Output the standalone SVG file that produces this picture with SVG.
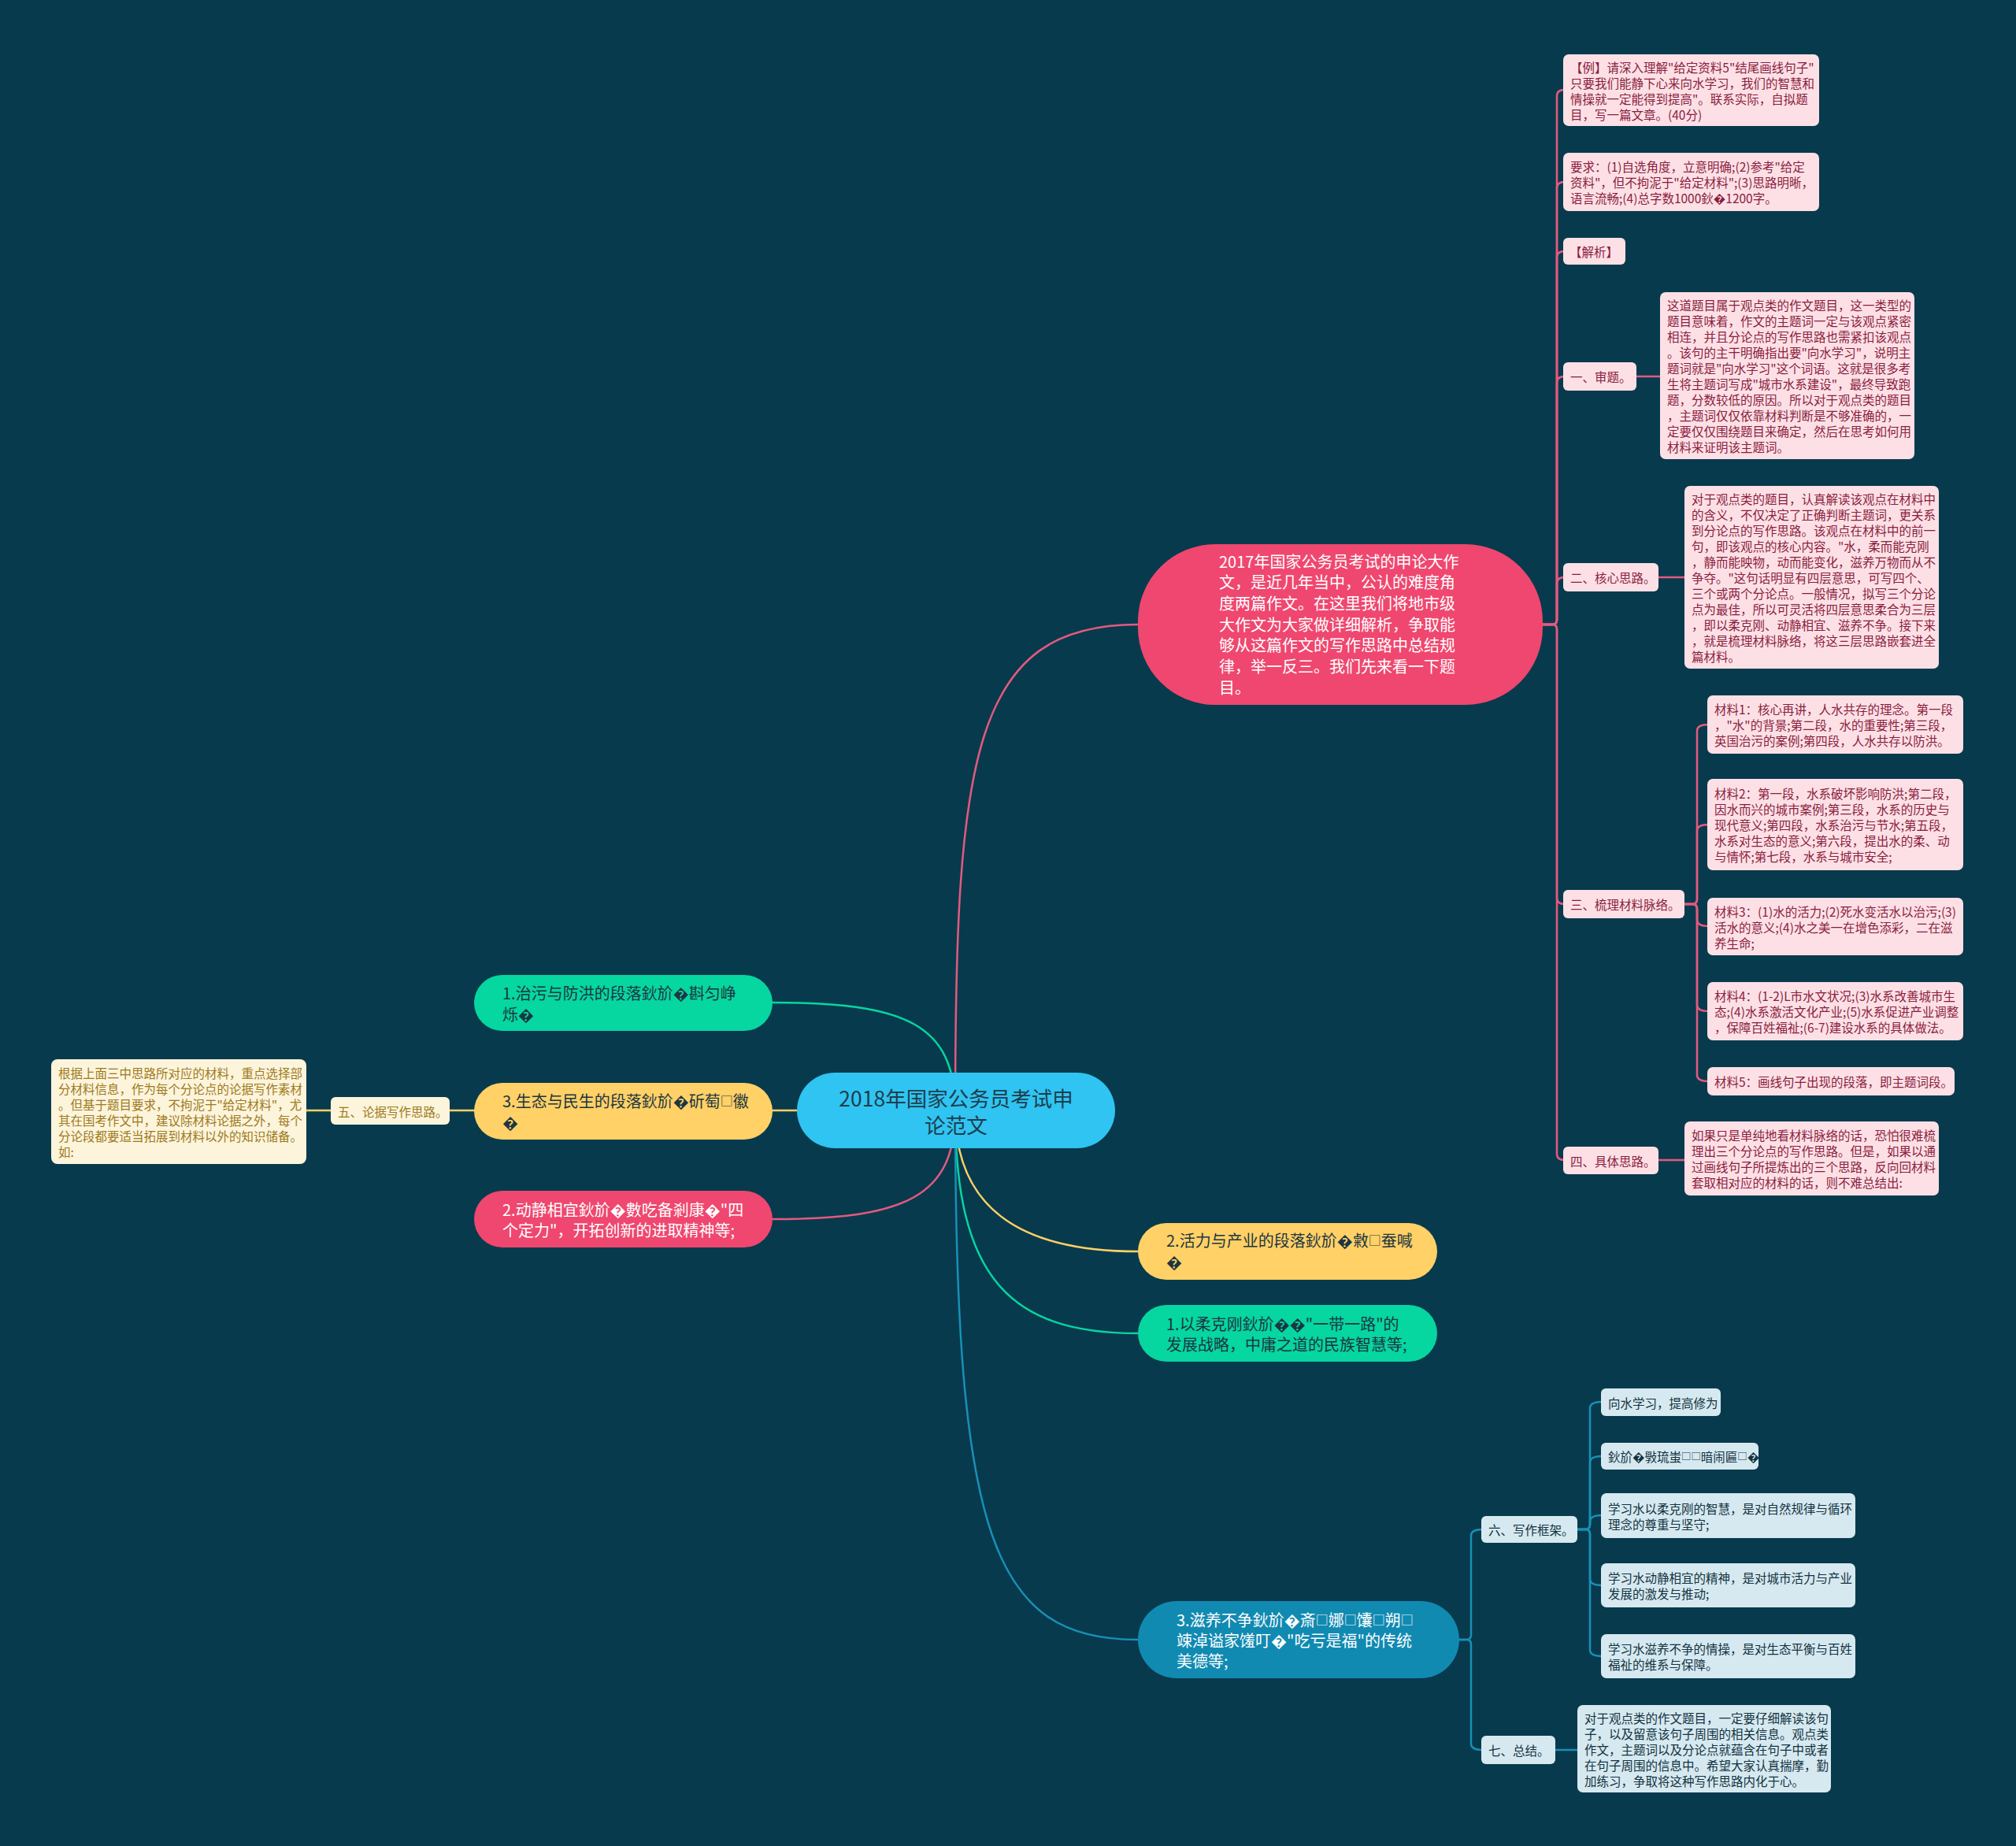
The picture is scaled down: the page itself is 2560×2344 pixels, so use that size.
<svg xmlns="http://www.w3.org/2000/svg" width="2560" height="2344" viewBox="0 0 2560 2344">
<defs>
<style>
text{font-family:"Noto Sans CJK SC","Noto Sans",sans-serif;dominant-baseline:central}
.bg{fill:#083a4d}
.c{fill:none;stroke-width:2.5;stroke-linecap:round}
.cp{stroke:#e35a7f}
.cg{stroke:#06d6a0}
.cy{stroke:#ffd166}
.cb{stroke:#1890b8}
.root rect{fill:#2fc4f1}
.root text{font-size:26.5px;fill:#1e3d4d;text-anchor:middle}
.l1 text{font-size:20px}
.dk{fill:#1c3542}
.wt{fill:#ffffff}
.fp{fill:#ef476f}
.fg{fill:#06d6a0}
.fy{fill:#ffd166}
.fb{fill:#118ab2}
.pn rect{fill:#fde0e6}
.pn text{font-size:15.5px;fill:#8a1d3d}
.bn rect{fill:#d6e9f0}
.bn text{font-size:15.5px;fill:#12323f}
.yn rect{fill:#fdf4dc}
.yn text{font-size:15.5px;fill:#9c7a1b}
.bx{font-size:0.8em}
</style>
</defs>
<rect class="bg" x="0" y="0" width="2560" height="2344"/>

<g id="connectors">
<path class="c cp" d="M1213 1410 C1213 960 1235 793 1445 793"/>
<path class="c cg" d="M981 1273 C1150 1273 1213 1300 1213 1410"/>
<path class="c cp" d="M981 1548 C1150 1548 1213 1520 1213 1410"/>
<path class="c cy" d="M1213 1410 H571 M420 1410 H389"/>
<path class="c cy" d="M1213 1410 C1213 1530 1290 1589 1445 1589"/>
<path class="c cg" d="M1213 1410 C1213 1620 1280 1693 1445 1693"/>
<path class="c cb" d="M1213 1410 C1213 1950 1260 2082 1445 2082"/>

<path class="c cp" stroke-width="2" d="M1959 793 H1971 Q1977 793 1977 787 V122 Q1977 114 1987 114"/>
<path class="c cp" stroke-width="2" d="M1959 793 H1971 Q1977 793 1977 787 V239 Q1977 231 1987 231"/>
<path class="c cp" stroke-width="2" d="M1959 793 H1971 Q1977 793 1977 787 V327 Q1977 319 1987 319"/>
<path class="c cp" stroke-width="2" d="M1959 793 H1971 Q1977 793 1977 787 V486 Q1977 478 1987 478"/>
<path class="c cp" stroke-width="2" d="M1959 793 H1971 Q1977 793 1977 787 V741 Q1977 733 1987 733"/>
<path class="c cp" stroke-width="2" d="M1959 793 H1971 Q1977 793 1977 799 V1140 Q1977 1148 1987 1148"/>
<path class="c cp" stroke-width="2" d="M1959 793 H1971 Q1977 793 1977 799 V1465 Q1977 1473 1987 1473"/>
<path class="c cp" stroke-width="2" d="M2078 478 H2108 M2106 733 H2139 M2106 1473 H2139"/>

<path class="c cp" stroke-width="2" d="M2139 1148 H2149 Q2155 1148 2155 1142 V928 Q2155 920 2170 920"/>
<path class="c cp" stroke-width="2" d="M2139 1148 H2149 Q2155 1148 2155 1142 V1055 Q2155 1047 2170 1047"/>
<path class="c cp" stroke-width="2" d="M2139 1148 H2149 Q2155 1148 2155 1154 V1168 Q2155 1176 2170 1176"/>
<path class="c cp" stroke-width="2" d="M2139 1148 H2149 Q2155 1148 2155 1154 V1276 Q2155 1284 2170 1284"/>
<path class="c cp" stroke-width="2" d="M2139 1148 H2149 Q2155 1148 2155 1154 V1365 Q2155 1373 2170 1373"/>

<path class="c cb" stroke-width="2" d="M1853 2082 H1862 Q1868 2082 1868 2076 V1950 Q1868 1942 1883 1942"/>
<path class="c cb" stroke-width="2" d="M1853 2082 H1862 Q1868 2082 1868 2088 V2214 Q1868 2222 1883 2222"/>
<path class="c cb" stroke-width="2" d="M1975 2222 H2003"/>
<path class="c cb" stroke-width="2" d="M2003 1942 H2013 Q2019 1942 2019 1936 V1788 Q2019 1780 2035 1780"/>
<path class="c cb" stroke-width="2" d="M2003 1942 H2013 Q2019 1942 2019 1936 V1857 Q2019 1849 2035 1849"/>
<path class="c cb" stroke-width="2" d="M2003 1942 H2013 Q2019 1942 2019 1936 V1932 Q2019 1924 2035 1924"/>
<path class="c cb" stroke-width="2" d="M2003 1942 H2013 Q2019 1942 2019 1948 V2005 Q2019 2013 2035 2013"/>
<path class="c cb" stroke-width="2" d="M2003 1942 H2013 Q2019 1942 2019 1948 V2095 Q2019 2103 2035 2103"/>
</g>

<g id="root" class="root">
<rect x="1012" y="1362" width="404" height="96" rx="48"/>
<text x="1214" y="1393">2018年国家公务员考试申</text>
<text x="1214" y="1427">论范文</text>
</g>

<g id="n-intro" class="l1">
<rect class="fp" x="1445" y="691" width="514" height="204" rx="98"/>
<text class="wt" x="1548" y="712">2017年国家公务员考试的申论大作</text>
<text class="wt" x="1548" y="738.7">文，是近几年当中，公认的难度角</text>
<text class="wt" x="1548" y="765.4">度两篇作文。在这里我们将地市级</text>
<text class="wt" x="1548" y="792.1">大作文为大家做详细解析，争取能</text>
<text class="wt" x="1548" y="818.8">够从这篇作文的写作思路中总结规</text>
<text class="wt" x="1548" y="845.5">律，举一反三。我们先来看一下题</text>
<text class="wt" x="1548" y="872.2">目。</text>
</g>

<g id="n-left1" class="l1">
<rect class="fg" x="602" y="1238" width="379" height="71" rx="35.5"/>
<text class="dk" x="638" y="1260">1.治污与防洪的段落鈥斺�斟匀峥</text>
<text class="dk" x="638" y="1287">烁�</text>
</g>
<g id="n-left3" class="l1">
<rect class="fy" x="602" y="1375" width="379" height="72" rx="36"/>
<text class="dk" x="638" y="1397">3.生态与民生的段落鈥斺�斫萄<tspan class="bx">□</tspan>徽</text>
<text class="dk" x="638" y="1424">�</text>
</g>
<g id="n-left2" class="l1">
<rect class="fp" x="602" y="1512" width="379" height="72" rx="36"/>
<text class="wt" x="638" y="1535">2.动静相宜鈥斺�數吃备剎康�"四</text>
<text class="wt" x="638" y="1561">个定力"，开拓创新的进取精神等;</text>
</g>

<g id="n-five" class="yn">
<rect x="420" y="1393" width="151" height="35" rx="6"/>
<text x="429" y="1410.5">五、论据写作思路。</text>
</g>
<g id="n-five-note" class="yn">
<rect x="65" y="1345" width="324" height="133" rx="8"/>
<text x="74" y="1361.5">根据上面三中思路所对应的材料，重点选择部</text>
<text x="74" y="1381.5">分材料信息，作为每个分论点的论据写作素材</text>
<text x="74" y="1401.5">。但基于题目要求，不拘泥于"给定材料"，尤</text>
<text x="74" y="1421.5">其在国考作文中，建议除材料论据之外，每个</text>
<text x="74" y="1441.5">分论段都要适当拓展到材料以外的知识储备。</text>
<text x="74" y="1461.5">如:</text>
</g>

<g id="n-right2" class="l1">
<rect class="fy" x="1445" y="1553" width="380" height="72" rx="36"/>
<text class="dk" x="1481" y="1574">2.活力与产业的段落鈥斺�敹<tspan class="bx">□</tspan>蚕喊</text>
<text class="dk" x="1481" y="1601">�</text>
</g>
<g id="n-right1" class="l1">
<rect class="fg" x="1445" y="1657" width="380" height="72" rx="36"/>
<text class="dk" x="1481" y="1680">1.以柔克刚鈥斺��"一带一路"的</text>
<text class="dk" x="1481" y="1706">发展战略，中庸之道的民族智慧等;</text>
</g>
<g id="n-right3" class="l1">
<rect class="fb" x="1445" y="2033" width="408" height="98" rx="49"/>
<text class="wt" x="1494" y="2056">3.滋养不争鈥斺�斎<tspan class="bx">□</tspan>娜<tspan class="bx">□</tspan>馕<tspan class="bx">□</tspan>朔<tspan class="bx">□</tspan></text>
<text class="wt" x="1494" y="2082">竦淖谥家馐叮�"吃亏是福"的传统</text>
<text class="wt" x="1494" y="2108">美德等;</text>
</g>

<g id="p-example" class="pn">
<rect x="1985" y="69" width="325" height="91" rx="7"/>
<text x="1994" y="84.5">【例】请深入理解"给定资料5"结尾画线句子"</text>
<text x="1994" y="104.5">只要我们能静下心来向水学习，我们的智慧和</text>
<text x="1994" y="124.5">情操就一定能得到提高"。联系实际，自拟题</text>
<text x="1994" y="144.5">目，写一篇文章。(40分)</text>
</g>
<g id="p-req" class="pn">
<rect x="1985" y="194" width="325" height="74" rx="7"/>
<text x="1994" y="211">要求：(1)自选角度，立意明确;(2)参考"给定</text>
<text x="1994" y="231">资料"，但不拘泥于"给定材料";(3)思路明晰，</text>
<text x="1994" y="251">语言流畅;(4)总字数1000鈥�1200字。</text>
</g>
<g id="p-jiexi" class="pn">
<rect x="1985" y="302" width="79" height="34" rx="6"/>
<text x="1993" y="319">【解析】</text>
</g>
<g id="p-one" class="pn">
<rect x="1985" y="460" width="93" height="36" rx="6"/>
<text x="1994" y="478">一、审题。</text>
</g>
<g id="p-one-note" class="pn">
<rect x="2108" y="371" width="323" height="212" rx="7"/>
<text x="2117" y="387">这道题目属于观点类的作文题目，这一类型的</text>
<text x="2117" y="407">题目意味着，作文的主题词一定与该观点紧密</text>
<text x="2117" y="427">相连，并且分论点的写作思路也需紧扣该观点</text>
<text x="2117" y="447">。该句的主干明确指出要"向水学习"，说明主</text>
<text x="2117" y="467">题词就是"向水学习"这个词语。这就是很多考</text>
<text x="2117" y="487">生将主题词写成"城市水系建设"，最终导致跑</text>
<text x="2117" y="507">题，分数较低的原因。所以对于观点类的题目</text>
<text x="2117" y="527">，主题词仅仅依靠材料判断是不够准确的，一</text>
<text x="2117" y="547">定要仅仅围绕题目来确定，然后在思考如何用</text>
<text x="2117" y="567">材料来证明该主题词。</text>
</g>
<g id="p-two" class="pn">
<rect x="1985" y="715" width="121" height="36" rx="6"/>
<text x="1994" y="733">二、核心思路。</text>
</g>
<g id="p-two-note" class="pn">
<rect x="2139" y="617" width="323" height="232" rx="7"/>
<text x="2148" y="633">对于观点类的题目，认真解读该观点在材料中</text>
<text x="2148" y="653">的含义，不仅决定了正确判断主题词，更关系</text>
<text x="2148" y="673">到分论点的写作思路。该观点在材料中的前一</text>
<text x="2148" y="693">句，即该观点的核心内容。"水，柔而能克刚</text>
<text x="2148" y="713">，静而能映物，动而能变化，滋养万物而从不</text>
<text x="2148" y="733">争夺。"这句话明显有四层意思，可写四个、</text>
<text x="2148" y="753">三个或两个分论点。一般情况，拟写三个分论</text>
<text x="2148" y="773">点为最佳，所以可灵活将四层意思柔合为三层</text>
<text x="2148" y="793">，即以柔克刚、动静相宜、滋养不争。接下来</text>
<text x="2148" y="813">，就是梳理材料脉络，将这三层思路嵌套进全</text>
<text x="2148" y="833">篇材料。</text>
</g>
<g id="p-three" class="pn">
<rect x="1985" y="1130" width="154" height="36" rx="6"/>
<text x="1994" y="1148">三、梳理材料脉络。</text>
</g>
<g id="p-m1" class="pn">
<rect x="2168" y="883" width="325" height="74" rx="7"/>
<text x="2177" y="900">材料1：核心再讲，人水共存的理念。第一段</text>
<text x="2177" y="920">，"水"的背景;第二段，水的重要性;第三段，</text>
<text x="2177" y="940">英国治污的案例;第四段，人水共存以防洪。</text>
</g>
<g id="p-m2" class="pn">
<rect x="2168" y="989" width="325" height="116" rx="7"/>
<text x="2177" y="1007">材料2：第一段，水系破坏影响防洪;第二段，</text>
<text x="2177" y="1027">因水而兴的城市案例;第三段，水系的历史与</text>
<text x="2177" y="1047">现代意义;第四段，水系治污与节水;第五段，</text>
<text x="2177" y="1067">水系对生态的意义;第六段，提出水的柔、动</text>
<text x="2177" y="1087">与情怀;第七段，水系与城市安全;</text>
</g>
<g id="p-m3" class="pn">
<rect x="2168" y="1140" width="325" height="73" rx="7"/>
<text x="2177" y="1156.5">材料3：(1)水的活力;(2)死水变活水以治污;(3)</text>
<text x="2177" y="1176.5">活水的意义;(4)水之美一在增色添彩，二在滋</text>
<text x="2177" y="1196.5">养生命;</text>
</g>
<g id="p-m4" class="pn">
<rect x="2168" y="1247" width="325" height="74" rx="7"/>
<text x="2177" y="1264">材料4：(1-2)L市水文状况;(3)水系改善城市生</text>
<text x="2177" y="1284">态;(4)水系激活文化产业;(5)水系促进产业调整</text>
<text x="2177" y="1304">，保障百姓福祉;(6-7)建设水系的具体做法。</text>
</g>
<g id="p-m5" class="pn">
<rect x="2168" y="1355" width="314" height="36" rx="7"/>
<text x="2177" y="1373">材料5：画线句子出现的段落，即主题词段。</text>
</g>
<g id="p-four" class="pn">
<rect x="1985" y="1456" width="121" height="35" rx="6"/>
<text x="1994" y="1473.5">四、具体思路。</text>
</g>
<g id="p-four-note" class="pn">
<rect x="2139" y="1424" width="323" height="94" rx="7"/>
<text x="2148" y="1441">如果只是单纯地看材料脉络的话，恐怕很难梳</text>
<text x="2148" y="1461">理出三个分论点的写作思路。但是，如果以通</text>
<text x="2148" y="1481">过画线句子所提炼出的三个思路，反向回材料</text>
<text x="2148" y="1501">套取相对应的材料的话，则不难总结出:</text>
</g>

<g id="b-six" class="bn">
<rect x="1881" y="1925" width="122" height="34" rx="6"/>
<text x="1890" y="1942">六、写作框架。</text>
</g>
<g id="b-s1" class="bn">
<rect x="2033" y="1763" width="152" height="35" rx="6"/>
<text x="2042" y="1780.5">向水学习，提高修为</text>
</g>
<g id="b-s2" class="bn">
<rect x="2033" y="1832" width="200" height="34" rx="6"/>
<text x="2042" y="1849">鈥斺�斅琉蚩<tspan class="bx">□□</tspan>暗闹匾<tspan class="bx">□</tspan>�</text>
</g>
<g id="b-s3" class="bn">
<rect x="2033" y="1896" width="323" height="57" rx="7"/>
<text x="2042" y="1914.5">学习水以柔克刚的智慧，是对自然规律与循环</text>
<text x="2042" y="1934.5">理念的尊重与坚守;</text>
</g>
<g id="b-s4" class="bn">
<rect x="2033" y="1985" width="323" height="56" rx="7"/>
<text x="2042" y="2003">学习水动静相宜的精神，是对城市活力与产业</text>
<text x="2042" y="2023">发展的激发与推动;</text>
</g>
<g id="b-s5" class="bn">
<rect x="2033" y="2075" width="323" height="56" rx="7"/>
<text x="2042" y="2093">学习水滋养不争的情操，是对生态平衡与百姓</text>
<text x="2042" y="2113">福祉的维系与保障。</text>
</g>
<g id="b-seven" class="bn">
<rect x="1881" y="2204" width="94" height="36" rx="6"/>
<text x="1890" y="2222">七、总结。</text>
</g>
<g id="b-seven-note" class="bn">
<rect x="2003" y="2165" width="322" height="111" rx="7"/>
<text x="2012" y="2180.5">对于观点类的作文题目，一定要仔细解读该句</text>
<text x="2012" y="2200.5">子，以及留意该句子周围的相关信息。观点类</text>
<text x="2012" y="2220.5">作文，主题词以及分论点就蕴含在句子中或者</text>
<text x="2012" y="2240.5">在句子周围的信息中。希望大家认真揣摩，勤</text>
<text x="2012" y="2260.5">加练习，争取将这种写作思路内化于心。</text>
</g>
</svg>
